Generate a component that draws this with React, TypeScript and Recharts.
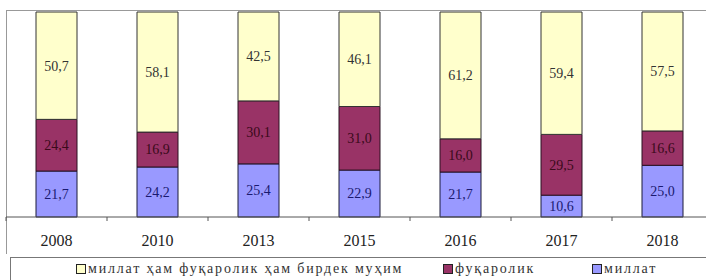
import React from "react"
import { Bar, BarChart, LabelList, XAxis, YAxis } from "recharts"

const years = ["2008", "2010", "2013", "2015", "2016", "2017", "2018"]
const both = [50.7, 58.1, 42.5, 46.1, 61.2, 59.4, 57.5]
const citizenship = [24.4, 16.9, 30.1, 31.0, 16.0, 29.5, 16.6]
const nation = [21.7, 24.2, 25.4, 22.9, 21.7, 10.6, 25.0]

const legendLabels = ["миллат ҳам фуқаролик ҳам бирдек муҳим", "фуқаролик", "миллат"]
const colors = ["#FFFFCC", "#993366", "#9999FF"]

const data = years.map((year, i) => ({
  year,
  both: both[i],
  citizenship: citizenship[i],
  nation: nation[i],
}))

const FONT = "Liberation Serif, Times New Roman, DejaVu Serif, serif"

const fmt = (v: any) => (typeof v === "number" ? v.toFixed(1).replace(".", ",") : v)

function YearTick(props: any) {
  const { x, y, payload, index } = props
  const off = payload?.offset ?? 50.5
  return (
    <g>
      <line x1={x - off} y1={y} x2={x - off} y2={y + 4} stroke="#555" />
      {index === years.length - 1 && <line x1={x + off} y1={y} x2={x + off} y2={y + 4} stroke="#555" />}
      <text x={x} y={y + 29} textAnchor="middle" style={{ fontFamily: FONT }} fontSize={16} fill="#222">
        {payload.value}
      </text>
    </g>
  )
}

export default function App() {
  return (
    <div style={{ position: "absolute", left: 0, top: 0, width: 706, height: 280, overflow: "hidden", background: "#fff", fontFamily: FONT }}>
      <div
        style={{
          position: "absolute",
          left: 6,
          top: 10,
          width: 720,
          height: 243,
          borderTop: "1px solid #999",
          borderLeft: "1px solid #999",
        }}
      />
      <BarChart
        width={720}
        height={280}
        data={data}
        stackOffset="expand"
        margin={{ top: 12, right: 7, bottom: 0, left: 6 }}
        style={{ fontFamily: FONT }}
      >
        <XAxis
          dataKey="year"
          height={63}
          axisLine={{ stroke: "#555" }}
          tickLine={false}
          tickSize={0}
          tickMargin={0}
          interval={0}
          tick={<YearTick />}
        />
        <YAxis hide domain={[0, 1]} />
        <Bar dataKey="nation" stackId="a" fill={colors[2]} stroke="#1a1a3a" barSize={41} isAnimationActive={false}>
          <LabelList dataKey="nation" position="center" formatter={fmt} fill="#1a1a70" style={{ fontFamily: FONT }} fontSize={14} />
        </Bar>
        <Bar dataKey="citizenship" stackId="a" fill={colors[1]} stroke="#2a1020" barSize={41} isAnimationActive={false}>
          <LabelList dataKey="citizenship" position="center" formatter={fmt} fill="#3a0a1a" style={{ fontFamily: FONT }} fontSize={14} />
        </Bar>
        <Bar dataKey="both" stackId="a" fill={colors[0]} stroke="#333" barSize={41} isAnimationActive={false}>
          <LabelList dataKey="both" position="center" formatter={fmt} fill="#333" style={{ fontFamily: FONT }} fontSize={14} />
        </Bar>
      </BarChart>
      <div
        style={{
          position: "absolute",
          left: 10,
          top: 257,
          width: 720,
          height: 30,
          border: "1px solid #777",
          fontSize: 14,
          letterSpacing: 1.8,
          color: "#333",
        }}
      >
        {legendLabels.map((label, i) => (
          <div
            key={label}
            style={{
              position: "absolute",
              left: [65, 432, 581][i],
              top: 3,
              display: "flex",
              alignItems: "center",
              whiteSpace: "nowrap",
            }}
          >
            <span
              style={{
                display: "inline-block",
                width: 8,
                height: 8,
                background: colors[i],
                border: "1px solid #222",
                marginRight: 2,
              }}
            />
            {label}
          </div>
        ))}
      </div>
    </div>
  )
}
